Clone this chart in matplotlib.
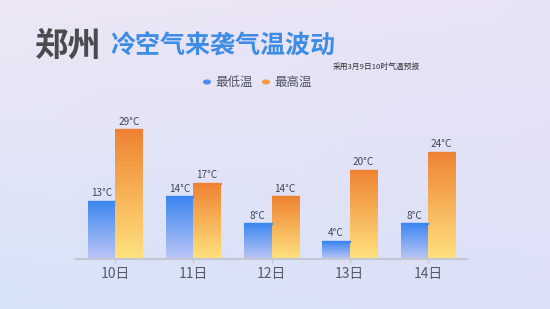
import numpy as np
import matplotlib
matplotlib.use("Agg")
from matplotlib import pyplot as plt
from matplotlib.colors import LinearSegmentedColormap

plt.rcParams['font.family'] = ['Noto Sans CJK SC', 'DejaVu Sans']

days = ["10日", "11日", "12日", "13日", "14日"]
low_temps = [13, 14, 8, 4, 8]
high_temps = [29, 17, 14, 20, 24]
series_names = ["最低温", "最高温"]

W, H = 550, 309
fig = plt.figure(figsize=(W / 100, H / 100), dpi=100)

# background gradient
bg = fig.add_axes([0, 0, 1, 1])
yy, xx = np.mgrid[0:1:200j, 0:1:200j]
top = np.array([0.93, 0.905, 0.96])
bottom = np.array([0.84, 0.89, 0.975])
right = np.array([0.89, 0.87, 0.97])
t = yy[..., None]
s = xx[..., None]
img = top * (1 - t) + bottom * t
img = img * (1 - 0.45 * s) + right * 0.45 * s
bg.imshow(img, extent=[0, 1, 0, 1], aspect="auto", origin="upper")
bg.axis("off")

ax = fig.add_axes([76 / W, 1 - 259 / H, (467 - 76) / W, (259 - 116) / H])
ax.patch.set_alpha(0)
x = np.arange(len(days))
bw = 0.35
low_bars = ax.bar(x - bw / 2, low_temps, bw, color="none")
high_bars = ax.bar(x + bw / 2, high_temps, bw, color="none")

blue_cmap = LinearSegmentedColormap.from_list("b", ["#bcc6f6", "#3b86f0"])
orange_cmap = LinearSegmentedColormap.from_list("o", ["#ffe27e", "#ef8232"])
grad = np.linspace(0, 1, 256).reshape(-1, 1)


def fill_gradient(bars, cmap):
    for b in bars:
        x0, w, h = b.get_x(), b.get_width(), b.get_height()
        im = ax.imshow(grad, cmap=cmap, extent=[x0, x0 + w, 0, h],
                       origin="lower", aspect="auto", zorder=2)
        im.set_clip_path(b)
        ax.add_patch(plt.Rectangle((x0, h - 0.12), w, 0.12, color=cmap(1.0), zorder=3))


fill_gradient(low_bars, blue_cmap)
fill_gradient(high_bars, orange_cmap)
ax.set_xlim(-0.5, len(days) - 0.5)
ax.set_ylim(0, 32)

for bars, vals in ((low_bars, low_temps), (high_bars, high_temps)):
    for b, v in zip(bars, vals):
        ax.text(b.get_x() + b.get_width() / 2, v + 0.6, f"{v}°C", ha="center", va="bottom",
                fontsize=7.2, fontweight="medium", color="#40454f")

for side in ("left", "right", "top"):
    ax.spines[side].set_visible(False)
ax.spines["bottom"].set_color("#c3c8d2")
ax.spines["bottom"].set_linewidth(1.5)
ax.set_yticks([])
ax.set_xticks(x)
ax.set_xticklabels(days, fontsize=10, color="#555b66")
ax.tick_params(axis="x", length=3, width=1, color="#c3c8d2", pad=3)

# titles
fig.text(35 / W, 1 - 46 / H, "郑州", fontsize=24, fontweight="heavy", color="#4a4a4f",
         ha="left", va="center")
fig.text(110 / W, 1 - 46 / H, "冷空气来袭气温波动", fontsize=18, fontweight="heavy",
         color="#3d8de6", ha="left", va="center", style="italic")
fig.text(333 / W, 1 - 67 / H, "采用3月9日10时气温预报", fontsize=5.6, color="#333",
         ha="left", va="center", style="italic")

# legend
leg_colors = ["#4a8cf0", "#f29a3a"]
leg_x = [207, 266]
for name, c, lx in zip(series_names, leg_colors, leg_x):
    fig.patches.append(plt.Circle((lx / W, 1 - 82 / H), 3.3 / W, color=c,
                                  transform=fig.transFigure, figure=fig))
    fig.text((lx + 8) / W, 1 - 82 / H, name, fontsize=9, color="#505560",
             ha="left", va="center")

fig.savefig("out.png", dpi=100)
